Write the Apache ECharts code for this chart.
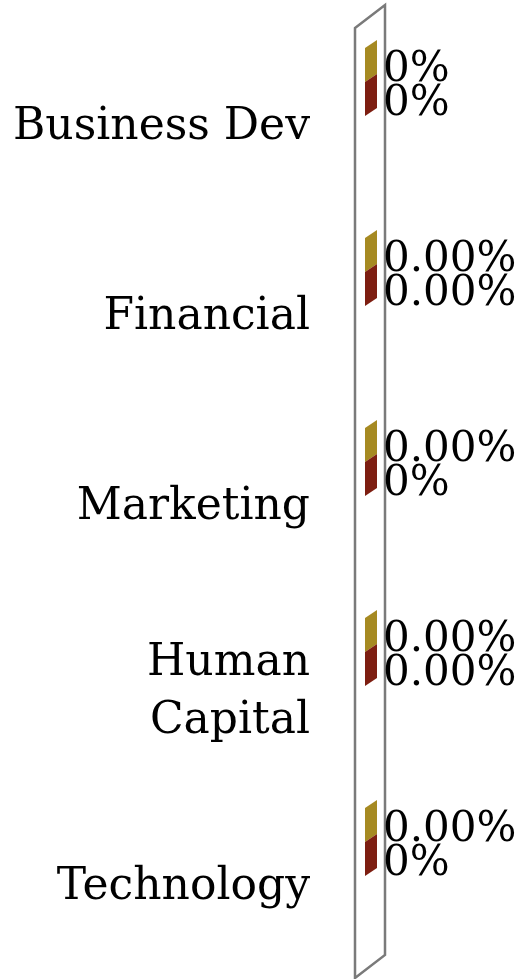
<!DOCTYPE html>
<html>
<head>
<meta charset="utf-8">
<style>
  html, body { margin: 0; padding: 0; background: #fff; }
  #main { width: 516px; height: 979px; }
</style>
<script src="https://cdn.jsdelivr.net/npm/echarts@6/dist/echarts.min.js"></script>
</head>
<body>
<div id="main"></div>
<script>
var categories = ['Business Dev', 'Financial', 'Marketing', 'Human Capital', 'Technology'];
var goldValues = [0, 0, 0, 0, 0];
var redValues = [0, 0, 0, 0, 0];
var goldLabels = ['0%', '0.00%', '0.00%', '0.00%', '0.00%'];
var redLabels = ['0%', '0.00%', '0%', '0.00%', '0%'];

var myChart = echarts.init(document.getElementById('main'));

var FONT = 'DejaVu Serif';

// 3d-ish bar: only the end face shows when value is 0
function barRenderer(slot, color, labels) {
  return function (params, api) {
    var cat = api.value(1);
    var start = api.coord([0, cat]);
    var end = api.coord([api.value(0), cat]);
    var band = api.size([0, 1])[1];
    var thick = band * 0.179;
    var top = start[1] - band * 0.395 + slot * thick;
    var xl = start[0] + 10;
    var xr = end[0] + 10;
    var dx = 12, dy = -8;
    var children = [];
    if (xr > xl) {
      children.push({
        type: 'polygon',
        shape: { points: [[xl, top], [xl + dx, top + dy], [xr + dx, top + dy], [xr, top]] },
        style: { fill: color }
      });
      children.push({
        type: 'rect',
        shape: { x: xl, y: top, width: xr - xl, height: thick },
        style: { fill: color }
      });
    }
    children.push({
      type: 'polygon',
      shape: { points: [[xr, top], [xr + dx, top + dy], [xr + dx, top + dy + thick], [xr, top + thick]] },
      style: { fill: color }
    });
    children.push({
      type: 'text',
      style: {
        text: labels[params.dataIndex],
        x: xr + 18,
        y: top + thick / 2 + 5,
        align: 'left',
        verticalAlign: 'middle',
        fontFamily: FONT,
        fontSize: 42,
        fill: '#000'
      }
    });
    return { type: 'group', children: children };
  };
}

function frameRenderer(params, api) {
  var cs = params.coordSys;
  var dx = 30, dy = -23;
  return {
    type: 'polygon',
    shape: {
      points: [
        [cs.x, cs.y],
        [cs.x + dx, cs.y + dy],
        [cs.x + dx, cs.y + cs.height + dy],
        [cs.x, cs.y + cs.height]
      ]
    },
    style: { fill: 'none', stroke: '#7a7a7a', lineWidth: 2.5 }
  };
}

function toData(values) {
  return values.map(function (v, i) { return [v, i]; });
}

var option = {
  animation: false,
  grid: {
    left: 355,
    top: 28,
    bottom: 1,
    right: 20
  },
  xAxis: {
    type: 'value',
    min: 0,
    max: 1,
    show: false
  },
  yAxis: {
    type: 'category',
    inverse: true,
    data: categories,
    axisLine: { show: false },
    axisTick: { show: false },
    splitLine: { show: false },
    axisLabel: {
      color: '#000',
      margin: 45,
      formatter: function (v) {
        if (v.length > 12) {
          return v.split(' ').map(function (s) { return '{m|' + s + '}'; }).join('\n');
        }
        return '{l|' + v + '}';
      },
      rich: {
        l: {
          fontFamily: FONT,
          fontSize: 44,
          lineHeight: 48,
          padding: [10, 0, 0, 0],
          color: '#000'
        },
        m: {
          fontFamily: FONT,
          fontSize: 44,
          lineHeight: 58,
          color: '#000'
        }
      }
    }
  },
  series: [
    {
      type: 'custom',
      renderItem: frameRenderer,
      data: [[0, 0]],
      encode: { x: 0, y: 1 },
      z: 1
    },
    {
      name: 'gold',
      type: 'custom',
      renderItem: barRenderer(0, '#a68a22', goldLabels),
      data: toData(goldValues),
      encode: { x: 0, y: 1 },
      z: 2
    },
    {
      name: 'red',
      type: 'custom',
      renderItem: barRenderer(1, '#7d1e11', redLabels),
      data: toData(redValues),
      encode: { x: 0, y: 1 },
      z: 2
    }
  ]
};

myChart.setOption(option);
</script>
</body>
</html>
